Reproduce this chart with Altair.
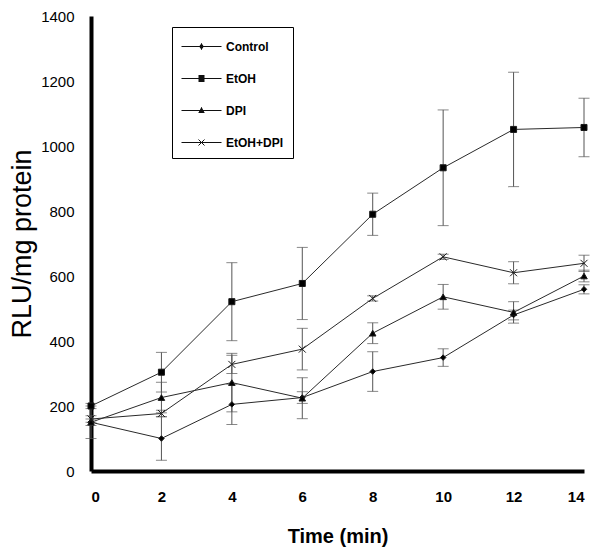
import altair as alt
import pandas as pd

# ---- data ----
times = [0, 2, 4, 6, 8, 10, 12, 14]
series = ["Control", "EtOH", "DPI", "EtOH+DPI"]

control = [150, 100, 205, 226, 306, 349, 480, 559]
control_err = [50, 67, 62, 18, 61, 27, 15, 14]

etoh = [200, 304, 521, 577, 790, 933, 1051, 1057]
etoh_err = [8, 61, 120, 111, 65, 178, 176, 90]

dpi = [150, 226, 272, 224, 424, 536, 488, 600]
dpi_err = [10, 47, 90, 63, 32, 38, 33, 18]

etoh_dpi = [160, 177, 328, 375, 531, 659, 610, 639]
etoh_dpi_err = [10, 10, 28, 64, 8, 8, 34, 25]

y_ticks = [0, 200, 400, 600, 800, 1000, 1200, 1400]
x_ticks = [0, 2, 4, 6, 8, 10, 12, 14]

rows = []
for name, vals, errs in [("Control", control, control_err), ("EtOH", etoh, etoh_err),
                         ("DPI", dpi, dpi_err), ("EtOH+DPI", etoh_dpi, etoh_dpi_err)]:
    for t, v, e in zip(times, vals, errs):
        rows.append({"series": name, "time": t, "value": v, "lo": v - e, "hi": v + e})
df = pd.DataFrame(rows)

FONT = "Liberation Sans"

marker_shapes = ["diamond", "square", "triangle-up", "M-1,-1L1,1M-1,1L1,-1"]
marker_sizes = [30, 49, 55, 50]


# legend glyphs: a horizontal line with a solid marker drawn as stacked strokes
def hatch(halfwidth_fn, ys):
    return "".join(f"M{-halfwidth_fn(y):.3f},{y:.2f}L{halfwidth_fn(y):.3f},{y:.2f}" for y in ys)


steps = [-0.3, -0.2, -0.1, 0.0, 0.1, 0.2, 0.3]
diamond_p = hatch(lambda y: max(0.04, 0.24 * (1 - abs(y) / 0.32)), steps)
square_p = hatch(lambda y: 0.3, steps)
tri_p = hatch(lambda y: max(0.04, 0.32 * (y + 0.36) / 0.6), [-0.3, -0.2, -0.1, 0.0, 0.1, 0.2])
x_p = "M-0.3,-0.3L0.3,0.3M-0.3,0.3L0.3,-0.3"
legend_paths = ["M-2,0L2,0" + p for p in [diamond_p, square_p, tri_p, x_p]]

x_enc = alt.X("time:Q", scale=alt.Scale(domain=[0, 14], nice=False),
              axis=alt.Axis(values=x_ticks, title="Time (min)", labelFont=FONT,
                            labelFontWeight="bold", labelFontSize=15, labelPadding=18,
                            titleFont=FONT, titleFontSize=20, titleFontWeight="bold",
                            titlePadding=22, tickSize=0, grid=False, domainWidth=4,
                            domainColor="black", labelColor="black", titleColor="black"))
y_enc = alt.Y("value:Q", scale=alt.Scale(domain=[0, 1400], nice=False),
              axis=alt.Axis(values=y_ticks, format="d", title="RLU/mg protein",
                            labelFont=FONT, labelFontSize=15, labelPadding=17,
                            titleFont=FONT, titleFontSize=27, titleFontWeight="normal",
                            titlePadding=4, tickSize=0, grid=False, domainWidth=4,
                            domainColor="black", labelColor="black", titleColor="black"))

base = alt.Chart(df)

lines = base.mark_line(color="#2a2a2a", strokeWidth=1).encode(
    x=x_enc, y=y_enc, detail="series:N")

err_rule = base.mark_rule(color="#555555", strokeWidth=1).encode(
    x="time:Q", y="lo:Q", y2="hi:Q")
err_lo = base.mark_tick(color="#555555", thickness=1, size=11, orient="horizontal").encode(
    x="time:Q", y="lo:Q")
err_hi = base.mark_tick(color="#555555", thickness=1, size=11, orient="horizontal").encode(
    x="time:Q", y="hi:Q")

points = base.mark_point(filled=True, color="black", stroke="#1a1a1a", strokeWidth=1,
                         opacity=1).encode(
    x="time:Q", y="value:Q",
    shape=alt.Shape("series:N", scale=alt.Scale(domain=series, range=marker_shapes),
                    legend=None),
    size=alt.Size("series:N", scale=alt.Scale(domain=series, range=marker_sizes),
                  legend=None))

legend_layer = base.mark_point(filled=False, opacity=0, size=400).encode(
    x="time:Q", y="value:Q",
    color=alt.Color("series:N", scale=alt.Scale(domain=series, range=["#111111"] * 4),
                    legend=None),
    shape=alt.Shape("series:N", scale=alt.Scale(domain=series, range=legend_paths),
                    legend=alt.Legend(title=None, orient="none", legendX=81, legendY=11,
                                      strokeColor="black", fillColor="white", padding=9,
                                      symbolSize=400, symbolOpacity=1,
                                      symbolStrokeColor="#111111", symbolStrokeWidth=1,
                                      symbolOffset=10, labelOffset=14, labelFont=FONT,
                                      labelFontSize=12, labelFontWeight="bold",
                                      labelColor="black", rowPadding=15)))

chart = alt.layer(lines, err_rule, err_lo, err_hi, points, legend_layer).resolve_scale(
    shape="independent", size="independent"
).properties(
    width=493, height=455,
    autosize=alt.AutoSizeParams(type="none"),
    padding={"left": 83, "top": 8, "right": 8, "bottom": 77},
).configure_view(stroke=None)

chart.save("out.html", embed_options={"renderer": "svg", "actions": False})
